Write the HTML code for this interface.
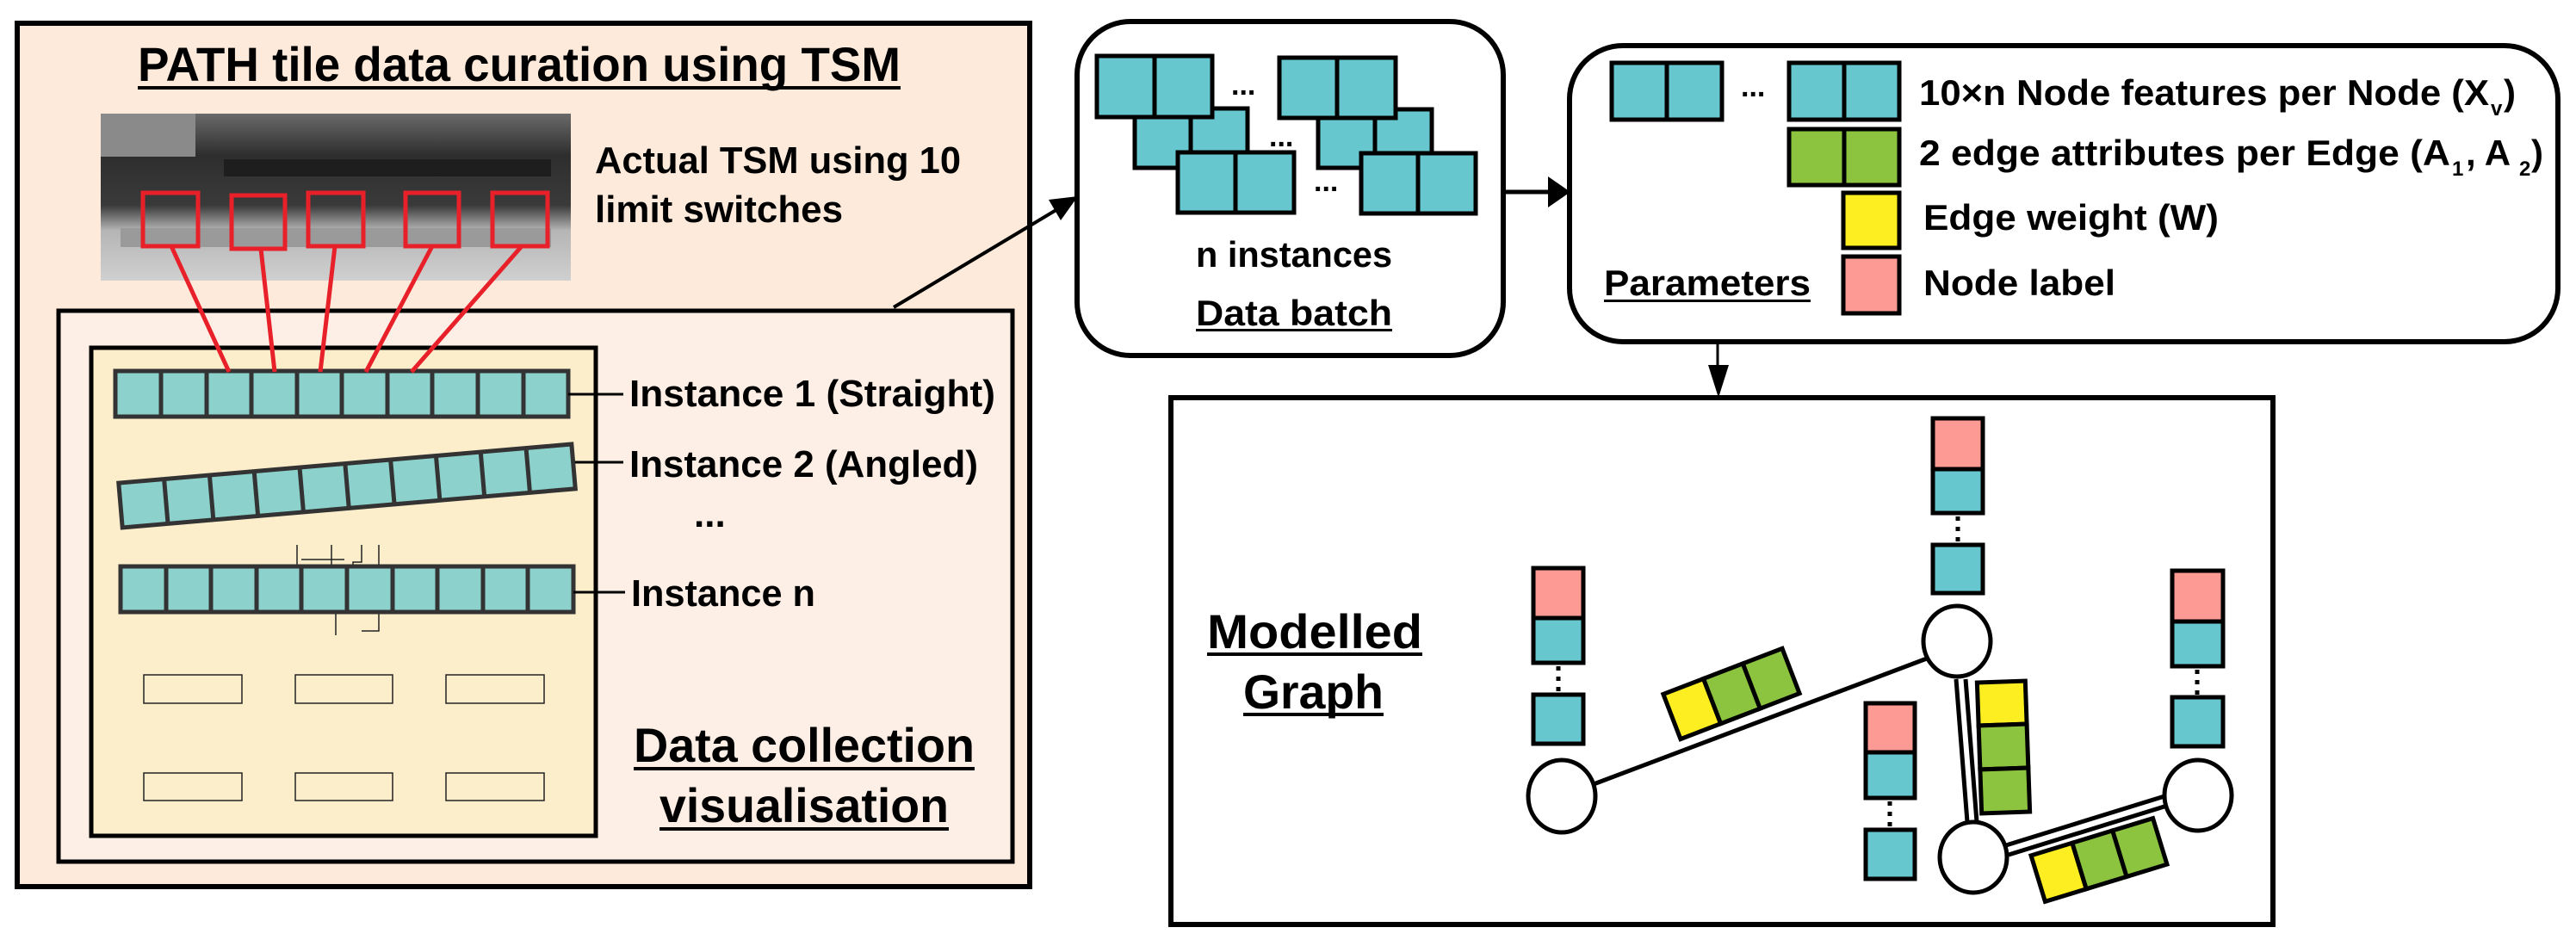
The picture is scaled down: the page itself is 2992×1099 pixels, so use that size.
<!DOCTYPE html>
<html><head><meta charset="utf-8"><style>
html,body{margin:0;padding:0;background:#fff}
svg{display:block}
text{font-family:"Liberation Sans",sans-serif;font-weight:bold;fill:#000}
</style></head><body>
<svg width="2992" height="1099" viewBox="0 0 2992 1099" xmlns="http://www.w3.org/2000/svg">
<defs>
<linearGradient id="ph" x1="0" y1="0" x2="0" y2="1">
<stop offset="0" stop-color="#6a6a6a"/><stop offset="0.25" stop-color="#2e2e2e"/><stop offset="0.55" stop-color="#3a3a3a"/><stop offset="0.7" stop-color="#b5b5b5"/><stop offset="1" stop-color="#d0d0d0"/>
</linearGradient>
</defs>
<!-- left outer -->
<rect x="20" y="27" width="1176" height="1003" fill="#fdeadb" stroke="#000" stroke-width="6"/>
<text x="160" y="94" font-size="56" textLength="886" lengthAdjust="spacingAndGlyphs">PATH tile data curation using TSM</text>
<rect x="160" y="100" width="886" height="4" fill="#000"/>
<!-- photo -->
<rect x="117" y="132" width="546" height="194" fill="url(#ph)"/>
<rect x="117" y="132" width="110" height="50" fill="#8a8a8a"/>
<rect x="260" y="185" width="380" height="20" fill="#1e1e1e"/>
<rect x="140" y="265" width="500" height="22" fill="#9a9a9a"/>
<text x="691" y="201" font-size="44" textLength="425" lengthAdjust="spacingAndGlyphs">Actual TSM using 10</text>
<text x="691" y="258" font-size="44" textLength="288" lengthAdjust="spacingAndGlyphs">limit switches</text>
<!-- inner box -->
<rect x="68" y="361" width="1108" height="640" fill="#fdefe6" stroke="#000" stroke-width="5"/>
<rect x="106" y="404" width="586" height="567" fill="#fdeecb" stroke="#000" stroke-width="5"/>
<!-- footprints -->
<g fill="none" stroke="#222" stroke-width="1.5">
<rect x="167" y="784" width="114" height="33"/><rect x="343" y="784" width="113" height="33"/><rect x="518" y="784" width="114" height="33"/>
<rect x="167" y="898" width="114" height="32"/><rect x="343" y="898" width="113" height="32"/><rect x="518" y="898" width="114" height="32"/>
<path d="M345 633v50h30v-20h10v-30M420 633v20h-10v40h-20v45M440 633v100h-20M400 650h-50"/>
</g>
<!-- instance bars -->
<g stroke="#333" stroke-width="5" fill="#8dd1cd">
<rect x="134" y="431" width="526" height="53"/>
<g transform="translate(140,587) rotate(-4.9)"><rect x="0" y="-26" width="528" height="52"/>
<path d="M53 -26v52M106 -26v52M158 -26v52M211 -26v52M264 -26v52M317 -26v52M370 -26v52M422 -26v52M475 -26v52" fill="none"/></g>
<rect x="140" y="658" width="526" height="53"/>
<path d="M187 431v53M240 431v53M292 431v53M345 431v53M397 431v53M450 431v53M502 431v53M555 431v53M608 431v53" fill="none"/>
<path d="M193 658v53M245 658v53M298 658v53M350 658v53M403 658v53M456 658v53M508 658v53M561 658v53M613 658v53" fill="none"/>
</g>
<!-- red -->
<g fill="none" stroke="#e8202a" stroke-width="5">
<rect x="166" y="224" width="64" height="62"/><rect x="269" y="227" width="62" height="62"/><rect x="358" y="224" width="64" height="62"/><rect x="471" y="224" width="62" height="62"/><rect x="572" y="224" width="64" height="62"/>
<path d="M199 286L266 432M303 289L319 432M389 286L372 432M502 286L425 432M606 286L478 432"/>
</g>
<g stroke="#000" stroke-width="3">
<line x1="660" y1="458" x2="724" y2="458"/><line x1="668" y1="537" x2="724" y2="537"/><line x1="666" y1="688" x2="726" y2="688"/>
</g>
<text x="731" y="472" font-size="44" textLength="425" lengthAdjust="spacingAndGlyphs">Instance 1 (Straight)</text>
<text x="731" y="554" font-size="44" textLength="405" lengthAdjust="spacingAndGlyphs">Instance 2 (Angled)</text>
<text x="806" y="612" font-size="44">...</text>
<text x="733" y="704" font-size="44" textLength="214" lengthAdjust="spacingAndGlyphs">Instance n</text>
<text x="736" y="885" font-size="56" textLength="396" lengthAdjust="spacingAndGlyphs">Data collection</text>
<rect x="736" y="891" width="396" height="4" fill="#000"/>
<text x="766" y="955" font-size="56" textLength="336" lengthAdjust="spacingAndGlyphs">visualisation</text>
<rect x="766" y="961" width="336" height="4" fill="#000"/>
<!-- arrow to data batch -->
<line x1="1038" y1="357" x2="1230" y2="242" stroke="#000" stroke-width="4"/>
<polygon points="1252,228 1218,232 1232,256" fill="#000"/>
<!-- data batch -->
<rect x="1251" y="25" width="495" height="388" rx="62" fill="#fff" stroke="#000" stroke-width="6"/>
<g fill="#67c7cf" stroke="#000" stroke-width="5">
<rect x="1318" y="126" width="131" height="69"/><path d="M1383 126v69"/>
<rect x="1531" y="127" width="132" height="68"/><path d="M1597 127v68"/>
<rect x="1274" y="65" width="134" height="71"/><path d="M1341 65v71"/>
<rect x="1486" y="67" width="135" height="70"/><path d="M1553 67v70"/>
<rect x="1368" y="177" width="135" height="70"/><path d="M1435 177v70"/>
<rect x="1581" y="178" width="133" height="70"/><path d="M1647 178v70"/>
</g>
<text x="1430" y="110" font-size="34">...</text>
<text x="1474" y="170" font-size="34">...</text>
<text x="1526" y="222" font-size="34">...</text>
<text x="1389" y="310" font-size="42" textLength="228" lengthAdjust="spacingAndGlyphs">n instances</text>
<text x="1389" y="378" font-size="42" textLength="228" lengthAdjust="spacingAndGlyphs">Data batch</text>
<rect x="1389" y="382" width="228" height="3" fill="#000"/>
<!-- arrow -->
<line x1="1746" y1="223" x2="1800" y2="223" stroke="#000" stroke-width="5"/>
<polygon points="1824,223 1798,205 1798,241" fill="#000"/>
<!-- parameters -->
<rect x="1823" y="53" width="1148" height="344" rx="62" fill="#fff" stroke="#000" stroke-width="6"/>
<g stroke="#000" stroke-width="5">
<rect x="1872" y="73" width="128" height="66" fill="#67c7cf"/><path d="M1936 73v66"/>
<rect x="2078" y="73" width="128" height="66" fill="#67c7cf"/><path d="M2142 73v66"/>
<rect x="2078" y="150" width="128" height="65" fill="#8cc43f"/><path d="M2142 150v65"/>
<rect x="2141" y="224" width="65" height="64" fill="#fcee21"/>
<rect x="2141" y="298" width="65" height="66" fill="#fd9a94"/>
</g>
<text x="2022" y="112" font-size="34">...</text>
<text x="2229" y="122" font-size="42" textLength="662" lengthAdjust="spacingAndGlyphs">10×n Node features per Node (X</text>
<text x="2893" y="134" font-size="24">v</text><text x="2908" y="122" font-size="42">)</text>
<text x="2229" y="192" font-size="42" textLength="617" lengthAdjust="spacingAndGlyphs">2 edge attributes per Edge (A</text>
<text x="2848" y="204" font-size="24">1</text><text x="2864" y="192" font-size="42">, A</text>
<text x="2926" y="204" font-size="24">2</text><text x="2940" y="192" font-size="42">)</text>
<text x="2234" y="267" font-size="42" textLength="343" lengthAdjust="spacingAndGlyphs">Edge weight (W)</text>
<text x="2234" y="343" font-size="42" textLength="223" lengthAdjust="spacingAndGlyphs">Node label</text>
<text x="1863" y="343" font-size="42" textLength="240" lengthAdjust="spacingAndGlyphs">Parameters</text>
<rect x="1863" y="348" width="240" height="3" fill="#000"/>
<!-- down arrow -->
<line x1="1995" y1="397" x2="1995" y2="440" stroke="#000" stroke-width="3"/>
<polygon points="1996,462 1984,424 2008,424" fill="#000"/>
<!-- graph box -->
<rect x="1360" y="462" width="1280" height="612" fill="#fff" stroke="#000" stroke-width="6"/>
<text x="1402" y="753" font-size="56" textLength="250" lengthAdjust="spacingAndGlyphs">Modelled</text>
<rect x="1402" y="758" width="250" height="4" fill="#000"/>
<text x="1444" y="823" font-size="56" textLength="163" lengthAdjust="spacingAndGlyphs">Graph</text>
<rect x="1444" y="828" width="163" height="4" fill="#000"/>
<!-- edges -->
<g stroke="#000" stroke-width="5" fill="none">
<line x1="1851" y1="911" x2="2238" y2="765"/>
<line x1="2272" y1="789" x2="2285" y2="955"/><line x1="2283" y1="789" x2="2296" y2="955"/>
<line x1="2330" y1="982" x2="2514" y2="925"/><line x1="2333" y1="993" x2="2517" y2="936"/>
</g>
<!-- stacks -->
<g stroke="#000" stroke-width="5">
<rect x="1781" y="660" width="58" height="58" fill="#fd9a94"/><rect x="1781" y="718" width="58" height="52" fill="#67c7cf"/><rect x="1781" y="807" width="58" height="57" fill="#67c7cf"/>
<rect x="2245" y="486" width="58" height="59" fill="#fd9a94"/><rect x="2245" y="545" width="58" height="51" fill="#67c7cf"/><rect x="2245" y="633" width="58" height="56" fill="#67c7cf"/>
<rect x="2167" y="817" width="57" height="57" fill="#fd9a94"/><rect x="2167" y="874" width="57" height="53" fill="#67c7cf"/><rect x="2167" y="964" width="57" height="57" fill="#67c7cf"/>
<rect x="2523" y="663" width="59" height="59" fill="#fd9a94"/><rect x="2523" y="722" width="59" height="52" fill="#67c7cf"/><rect x="2523" y="810" width="59" height="57" fill="#67c7cf"/>
</g>
<g stroke="#000" stroke-width="5" stroke-dasharray="5 7" fill="none">
<line x1="1810" y1="774" x2="1810" y2="805"/><line x1="2274" y1="600" x2="2274" y2="631"/><line x1="2195" y1="931" x2="2195" y2="962"/><line x1="2552" y1="778" x2="2552" y2="808"/>
</g>
<!-- nodes -->
<g fill="#fff" stroke="#000" stroke-width="5">
<ellipse cx="1814" cy="925" rx="39" ry="42"/>
<ellipse cx="2273" cy="745" rx="39" ry="41"/>
<ellipse cx="2292" cy="996" rx="39" ry="41"/>
<ellipse cx="2553" cy="924" rx="39" ry="41"/>
</g>
<!-- edge rects -->
<g stroke="#000" stroke-width="5">
<g transform="translate(2011,806) rotate(-21)">
<rect x="-74" y="-28" width="50" height="56" fill="#fcee21"/><rect x="-24" y="-28" width="49" height="56" fill="#8cc43f"/><rect x="25" y="-28" width="49" height="56" fill="#8cc43f"/></g>
<g transform="translate(2327,868) rotate(-2)">
<rect x="-28" y="-76" width="56" height="50" fill="#fcee21"/><rect x="-28" y="-26" width="56" height="51" fill="#8cc43f"/><rect x="-28" y="25" width="56" height="51" fill="#8cc43f"/></g>
<g transform="translate(2438,999) rotate(-17)">
<rect x="-74" y="-28" width="50" height="56" fill="#fcee21"/><rect x="-24" y="-28" width="49" height="56" fill="#8cc43f"/><rect x="25" y="-28" width="49" height="56" fill="#8cc43f"/></g>
</g>
</svg>
</body></html>
